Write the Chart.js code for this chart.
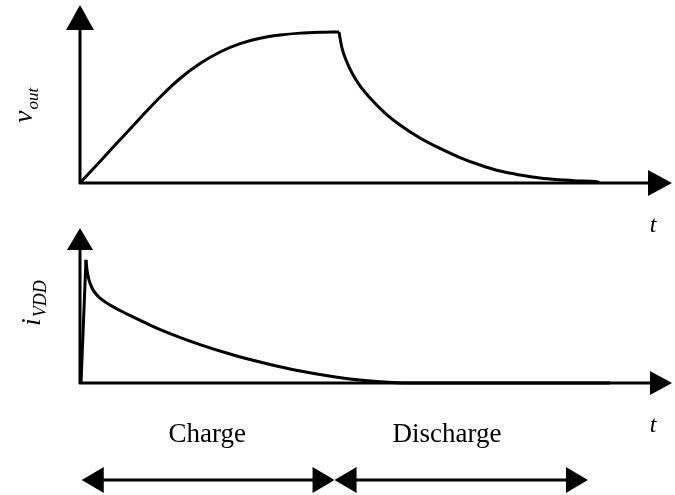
<!DOCTYPE html>
<html>
<head>
<meta charset="utf-8">
<script src="https://cdn.jsdelivr.net/npm/chart.js@4"></script>
<style>
  html, body { margin: 0; padding: 0; background: #fff; }
  #wrap { position: relative; width: 675px; height: 495px; }
  #wrap canvas { position: absolute; left: 0; top: 0; }
</style>
</head>
<body>
<div id="wrap">
  <canvas id="topChart" width="675" height="495"></canvas>
  <canvas id="bottomChart" width="675" height="495"></canvas>
</div>
<script>
// v_out under opladning (t i vilkaarlige enheder, v normeret)
const chargeT = [0, 0.338, 0.676, 1.014, 1.351, 1.689, 2.027, 2.365, 2.703, 3.041, 3.378, 3.716, 4.054, 4.375];
const chargeV = [0, 0.121, 0.243, 0.364, 0.482, 0.587, 0.671, 0.736, 0.783, 0.813, 0.831, 0.842, 0.847, 0.849];

// v_out under afladning
const dischargeT = [4.375, 4.392, 4.426, 4.493, 4.595, 4.730, 4.899, 5.152, 5.405, 5.743, 6.081, 6.419,
                    6.757, 7.095, 7.432, 7.770, 8.108, 8.446, 8.750, 8.767];
const dischargeV = [0.849, 0.815, 0.758, 0.691, 0.618, 0.545, 0.478, 0.393, 0.326, 0.253, 0.194, 0.143,
                    0.101, 0.067, 0.045, 0.028, 0.018, 0.011, 0.006, 0];

// i_VDD: spids og henfald
const spikeT = [0.017, 0.101];
const spikeI = [0, 0.794];
const decayT = [0.101, 0.118, 0.152, 0.203, 0.270, 0.338, 0.507, 0.676, 0.895, 1.182, 1.520, 2.027,
                2.534, 3.041, 3.547, 4.054, 4.561, 5.068, 5.574, 8.953];
const decayI = [0.794, 0.729, 0.665, 0.613, 0.574, 0.548, 0.503, 0.468, 0.426, 0.374, 0.319, 0.248,
                0.187, 0.135, 0.090, 0.055, 0.026, 0.008, 0, 0];

// Faser
const phaseNames = ["Charge", "Discharge"];
const phaseEdges = [0.03, 4.3, 8.58];
const phaseLabelAt = [2.15, 6.2];

const xMax = 10;

function toPoints(xs, ys) {
  return xs.map((x, i) => ({ x: x, y: ys[i] }));
}

function lineSet(points) {
  return {
    data: points,
    borderColor: "#000",
    borderWidth: 3,
    pointRadius: 0,
    fill: false,
    cubicInterpolationMode: "monotone",
    borderJoinStyle: "round",
    clip: false
  };
}

// Pilehoved
function arrowHead(ctx, x, y, angle, len, half) {
  ctx.save();
  ctx.translate(x, y);
  ctx.rotate(angle);
  ctx.beginPath();
  ctx.moveTo(0, 0);
  ctx.lineTo(-len, -half);
  ctx.lineTo(-len, half);
  ctx.closePath();
  ctx.fill();
  ctx.restore();
}

// Akser med pile + akse-tekst
const axesPlugin = {
  id: "axesArrows",
  beforeDatasetsDraw(chart, args, opts) {
    const ctx = chart.ctx;
    const xs = chart.scales.x, ys = chart.scales.y;
    const x0 = xs.getPixelForValue(0);
    const y0 = ys.getPixelForValue(0);
    const top = chart.chartArea.top;
    const right = chart.chartArea.right;
    ctx.save();
    ctx.strokeStyle = "#000";
    ctx.fillStyle = "#000";
    ctx.lineWidth = 3;
    ctx.beginPath();
    ctx.moveTo(x0, y0 + 1);
    ctx.lineTo(x0, top + opts.yLen - 2);
    ctx.moveTo(x0 - 1, y0);
    ctx.lineTo(right - opts.xLen + 2, y0);
    ctx.stroke();
    arrowHead(ctx, x0, top, -Math.PI / 2, opts.yLen, opts.yHalf);
    arrowHead(ctx, right, y0, 0, opts.xLen, opts.xHalf);
    ctx.restore();
  },
  afterDraw(chart, args, opts) {
    const ctx = chart.ctx;
    ctx.save();
    ctx.fillStyle = "#000";
    // y-akse tekst, drejet
    ctx.translate(opts.labelX, opts.labelY);
    ctx.rotate(-Math.PI / 2);
    ctx.textBaseline = "alphabetic";
    ctx.textAlign = "left";
    ctx.font = "italic " + opts.mainSize + "px 'Liberation Serif', serif";
    ctx.fillText(opts.main, 0, 0);
    const w = ctx.measureText(opts.main).width;
    ctx.font = "italic " + opts.subSize + "px 'Liberation Serif', serif";
    ctx.fillText(opts.sub, w + 1, opts.subShift);
    ctx.restore();
    // t
    ctx.save();
    ctx.fillStyle = "#000";
    ctx.font = "italic 24px 'Liberation Serif', serif";
    ctx.textAlign = "center";
    ctx.fillText("t", opts.tX, opts.tY);
    ctx.restore();
  }
};

// Fase-pile under nederste graf
const phasePlugin = {
  id: "phases",
  afterDraw(chart, args, opts) {
    const ctx = chart.ctx;
    const xs = chart.scales.x;
    ctx.save();
    ctx.fillStyle = "#000";
    ctx.strokeStyle = "#000";
    ctx.lineWidth = 3;
    ctx.font = "27px 'Liberation Serif', serif";
    ctx.textAlign = "center";
    for (let i = 0; i < phaseNames.length; i++) {
      const a = xs.getPixelForValue(phaseEdges[i]);
      const b = xs.getPixelForValue(phaseEdges[i + 1]);
      ctx.beginPath();
      ctx.moveTo(a + 10, opts.arrowY);
      ctx.lineTo(b - 10, opts.arrowY);
      ctx.stroke();
      arrowHead(ctx, a, opts.arrowY, Math.PI, 22, 13);
      arrowHead(ctx, b, opts.arrowY, 0, 22, 13);
      ctx.fillText(phaseNames[i], xs.getPixelForValue(phaseLabelAt[i]), opts.textY);
    }
    ctx.restore();
  }
};

function makeChart(id, datasets, padding, axesOpts, extra) {
  return new Chart(document.getElementById(id), {
    type: "line",
    data: { datasets: datasets },
    options: {
      responsive: false,
      animation: false,
      events: [],
      layout: { padding: padding },
      plugins: {
        legend: { display: false },
        tooltip: { enabled: false },
        axesArrows: axesOpts,
        phases: extra || {}
      },
      scales: {
        x: { type: "linear", min: 0, max: xMax, display: false },
        y: { type: "linear", min: 0, max: 1, display: false }
      }
    },
    plugins: extra ? [axesPlugin, phasePlugin] : [axesPlugin]
  });
}

makeChart("topChart",
  [lineSet(toPoints(chargeT, chargeV)), lineSet(toPoints(dischargeT, dischargeV))],
  { left: 80, right: 3, top: 5, bottom: 312 },
  { yLen: 25, yHalf: 14, xLen: 24, xHalf: 13,
    labelX: 32, labelY: 123, main: "v", sub: "out", mainSize: 28, subSize: 17, subShift: 6,
    tX: 653, tY: 232 });

makeChart("bottomChart",
  [lineSet(toPoints(spikeT, spikeI)), lineSet(toPoints(decayT, decayI))],
  { left: 80, right: 3, top: 228, bottom: 112 },
  { yLen: 22, yHalf: 13, xLen: 22, xHalf: 12,
    labelX: 40, labelY: 326, main: "i", sub: "VDD", mainSize: 28, subSize: 18, subShift: 6,
    tX: 653, tY: 432 },
  { arrowY: 480, textY: 442 });
</script>
</body>
</html>
